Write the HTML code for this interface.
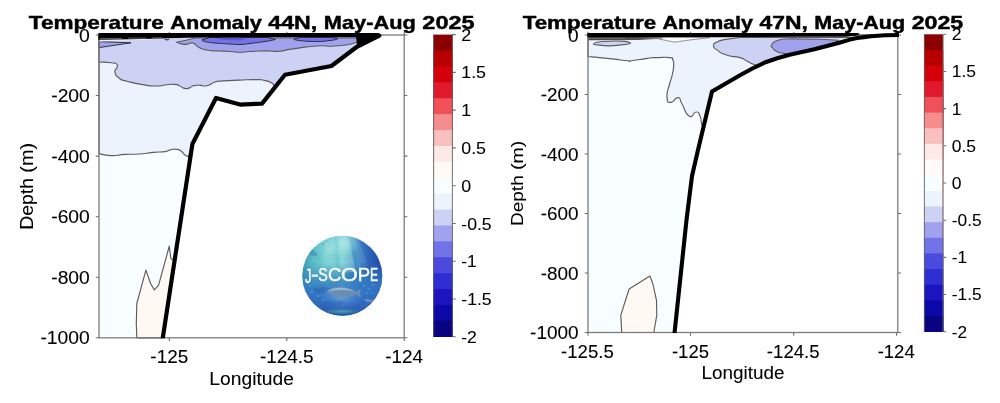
<!DOCTYPE html>
<html><head><meta charset="utf-8"><title>Temperature Anomaly</title>
<style>
html,body{margin:0;padding:0;background:#fff;}
body{width:1000px;height:403px;overflow:hidden;}
svg{display:block;will-change:transform;-webkit-font-smoothing:antialiased;}
text{font-family:"Liberation Sans",sans-serif;}
</style></head><body>
<svg width="1000" height="403" viewBox="0 0 1000 403">
<rect width="1000" height="403" fill="#fff"/>
<g stroke-linejoin="round">
<polygon points="99.0,35.0 379.3,35.6 357.0,46.8 331.4,66.0 285.0,74.8 262.0,103.6 240.0,104.6 216.0,98.0 192.4,144.0 162.8,337.8 99.0,337.8" fill="#f8feff"/>
<path d="M99.0 35.0L99.0 153.6C103.0 154.3 102.3 155.3 111.0 155.6C119.7 155.9 115.7 154.9 125.0 154.4C134.3 153.9 129.7 154.7 139.0 154.0C148.3 153.3 144.3 153.2 153.0 152.4C161.7 151.6 159.0 152.5 165.0 151.6C171.0 150.7 167.0 150.3 171.0 149.6C175.0 148.9 173.7 148.9 177.0 149.4C180.3 149.9 178.3 149.1 181.0 151.0C183.7 152.9 182.5 153.1 185.0 155.0C187.5 156.9 187.3 156.1 188.5 156.6L192.4 144.0L216.0 98.0L240.0 104.6L262.0 103.6L285.0 74.8L331.4 66.0L357.0 46.8L379.5 35.5Z" fill="#edf3fc" stroke="#5c5c5c" stroke-width="1.15"/>
<path d="M99.0 35.0L99.0 62.0C103.0 62.3 105.1 62.1 111.0 62.8C116.9 63.5 114.6 62.5 116.6 64.1C118.6 65.7 117.4 65.0 116.9 67.6C116.4 70.2 114.3 68.4 115.0 71.9C115.7 75.4 115.0 74.9 119.0 78.0C123.0 81.1 119.5 79.1 127.0 81.2C134.5 83.3 131.8 82.8 141.4 84.4C151.0 86.0 147.3 85.9 155.8 86.0C164.3 86.1 160.6 85.2 167.0 84.7C173.4 84.2 170.7 84.0 175.0 84.4C179.3 84.8 176.6 84.7 179.8 86.0C183.0 87.3 181.4 87.8 184.6 88.4C187.8 89.0 186.7 88.7 189.4 87.9C192.1 87.1 189.4 86.9 192.6 86.0C195.8 85.1 194.2 85.3 199.0 85.2C203.8 85.1 201.7 86.8 207.0 85.7C212.3 84.6 209.7 83.6 215.0 82.0C220.3 80.4 215.0 81.5 223.0 80.9C231.0 80.3 228.3 80.5 239.0 80.1C249.7 79.7 246.6 79.5 255.0 79.6C263.4 79.7 258.7 79.3 264.2 80.4C269.7 81.5 267.9 80.9 271.4 82.8C274.9 84.7 272.9 85.1 274.6 86.0C276.3 86.9 275.9 85.7 276.5 85.5L285.0 74.8L331.4 66.0L357.0 46.8L379.5 35.5Z" fill="#cdd1f4" stroke="#5c5c5c" stroke-width="1.15"/>
<polygon points="99.0,41.6 131.0,42.8 99.0,47.6" fill="#a0a2ee" stroke="#222" stroke-width="0.90"/>
<path d="M176.6 42.3C179.1 43.0 179.5 44.1 184.0 44.4C188.5 44.7 186.7 43.5 190.0 43.2C193.3 42.9 190.7 42.0 194.0 43.6C197.3 45.2 194.7 45.7 200.0 48.0C205.3 50.3 203.3 49.5 210.0 50.5C216.7 51.5 213.3 50.7 220.0 51.0C226.7 51.3 223.3 51.1 230.0 51.5C236.7 51.9 233.3 52.2 240.0 52.2C246.7 52.2 243.3 51.9 250.0 51.5C256.7 51.1 253.3 51.2 260.0 51.0C266.7 50.8 263.3 50.9 270.0 51.0C276.7 51.1 272.3 51.9 280.0 51.2C287.7 50.5 280.7 50.6 293.0 48.9C305.3 47.2 303.1 47.0 317.0 46.0C330.9 45.0 321.8 47.1 334.6 46.0C347.4 44.9 347.9 45.5 355.4 42.8C362.9 40.1 356.5 39.6 357.0 38.0L195.0 38.0L186.0 40.3Z" fill="#a0a2ee" stroke="#5c5c5c" stroke-width="1.15"/>
<path d="M202.0 39.8C203.0 40.4 200.7 40.4 205.0 41.5C209.3 42.6 206.7 42.2 215.0 43.0C223.3 43.8 221.7 43.5 230.0 44.0C238.3 44.5 233.3 44.7 240.0 44.5C246.7 44.3 241.7 44.5 250.0 43.5C258.3 42.5 256.5 42.8 265.0 41.5C273.5 40.2 272.0 40.2 275.5 39.5L268.0 37.5L210.0 37.5Z" fill="#7373e8" stroke="#222" stroke-width="0.90"/>
<path d="M293.8 39.3C295.9 39.7 292.8 39.9 300.0 40.6C307.2 41.3 305.4 41.5 315.4 41.5C325.4 41.5 322.5 41.4 330.0 40.5C337.5 39.6 335.2 39.4 337.8 38.8L332.0 37.3L300.0 37.3Z" fill="#7373e8" stroke="#222" stroke-width="0.90"/>
<polygon points="215.5,38.6 225.0,40.0 240.0,40.2 246.0,38.8 240.0,37.4 222.0,37.4" fill="#5a5acc"/>
<polygon points="164.0,39.0 170.0,39.2 168.0,40.6 165.5,40.3" fill="#3c3c78"/>
<polygon points="99.0,38.0 165.0,38.0 150.0,39.6 99.0,41.5" fill="#eeeef4"/>
<polygon points="136.8,337.8 136.3,323.3 136.8,303.5 145.9,270.1 150.7,283.7 154.4,289.9 158.6,285.1 169.3,246.1 170.8,258.3 174.5,261.0 162.8,337.8" fill="#fff9f4" stroke="#5c5c5c" stroke-width="1.15"/>
<polygon points="356.0,35.0 379.5,35.0 357.0,47.0" fill="#000"/>
</g>
<g stroke="#7c7c7c" fill="none">
<rect x="99.00" y="35.00" width="305.20" height="302.80" stroke-width="1.3"/>
<path d="M169.30 337.80v3.20 M169.30 35.00v-3.20 M286.80 337.80v3.20 M286.80 35.00v-3.20 M404.20 337.80v3.20 M404.20 35.00v-3.20 M99.00 35.00h-3.20 M404.20 35.00h3.20 M99.00 95.56h-3.20 M404.20 95.56h3.20 M99.00 156.12h-3.20 M404.20 156.12h3.20 M99.00 216.68h-3.20 M404.20 216.68h3.20 M99.00 277.24h-3.20 M404.20 277.24h3.20 M99.00 337.80h-3.20 M404.20 337.80h3.20 " stroke-width="1.1" stroke="#6c6c6c"/>
</g>
<clipPath id="cl"><rect x="98" y="30" width="307" height="308.3"/></clipPath>
<polyline clip-path="url(#cl)" points="379.3,35.6 357.0,46.8 331.4,66.0 285.0,74.8 262.0,103.6 240.0,104.6 216.0,98.0 192.4,144.0 162.0,343.0" fill="none" stroke="#000" stroke-width="4.2" stroke-linejoin="round" stroke-linecap="round"/>
<polygon points="98.4,33.1 379.0,33.1 379.0,37.3 250.0,37.3 200.0,37.5 175.0,38.1 151.0,38.7 131.0,39.2 98.4,39.7" fill="#000"/>
<path d="M100 38.4h22M128 38.1h18M152 37.9h10" stroke="#8c8c8c" stroke-width="0.7" fill="none"/>
<text x="78.98" y="41.60" font-size="17.77" stroke="#000" stroke-width="0.08" textLength="10.82" lengthAdjust="spacingAndGlyphs">0</text>
<text x="51.22" y="102.16" font-size="17.77" stroke="#000" stroke-width="0.08" textLength="38.58" lengthAdjust="spacingAndGlyphs">-200</text>
<text x="51.22" y="162.72" font-size="17.77" stroke="#000" stroke-width="0.08" textLength="38.58" lengthAdjust="spacingAndGlyphs">-400</text>
<text x="51.22" y="223.28" font-size="17.77" stroke="#000" stroke-width="0.08" textLength="38.58" lengthAdjust="spacingAndGlyphs">-600</text>
<text x="51.22" y="283.84" font-size="17.77" stroke="#000" stroke-width="0.08" textLength="38.58" lengthAdjust="spacingAndGlyphs">-800</text>
<text x="40.40" y="344.40" font-size="17.77" stroke="#000" stroke-width="0.08" textLength="49.40" lengthAdjust="spacingAndGlyphs">-1000</text>
<text x="150.39" y="363.20" font-size="17.77" stroke="#000" stroke-width="0.08" textLength="37.81" lengthAdjust="spacingAndGlyphs">-125</text>
<text x="259.95" y="363.20" font-size="17.77" stroke="#000" stroke-width="0.08" textLength="53.71" lengthAdjust="spacingAndGlyphs">-124.5</text>
<text x="385.29" y="363.20" font-size="17.77" stroke="#000" stroke-width="0.08" textLength="37.81" lengthAdjust="spacingAndGlyphs">-124</text>
<text x="209.32" y="384.60" font-size="17.85" stroke="#000" stroke-width="0.08" textLength="84.55" lengthAdjust="spacingAndGlyphs">Longitude</text>
<g transform="translate(33.40 186.30) rotate(-90)">
<text x="-43.50" y="0" font-size="17.59" stroke="#000" stroke-width="0.08" textLength="51.78" lengthAdjust="spacingAndGlyphs">Depth</text>
<text x="13.68" y="0" font-size="17.59" stroke="#000" stroke-width="0.08" textLength="29.82" lengthAdjust="spacingAndGlyphs">(m)</text>
</g>
<text x="28.86" y="29.20" font-size="18.94" font-weight="bold" stroke="#000" stroke-width="0.45" textLength="134.87" lengthAdjust="spacingAndGlyphs">Temperature</text>
<text x="170.26" y="29.20" font-size="18.94" font-weight="bold" stroke="#000" stroke-width="0.45" textLength="91.58" lengthAdjust="spacingAndGlyphs">Anomaly</text>
<text x="268.37" y="29.20" font-size="18.94" font-weight="bold" stroke="#000" stroke-width="0.45" textLength="48.91" lengthAdjust="spacingAndGlyphs">44N,</text>
<text x="323.80" y="29.20" font-size="18.94" font-weight="bold" stroke="#000" stroke-width="0.45" textLength="92.02" lengthAdjust="spacingAndGlyphs">May-Aug</text>
<text x="422.35" y="29.20" font-size="18.94" font-weight="bold" stroke="#000" stroke-width="0.45" textLength="52.18" lengthAdjust="spacingAndGlyphs">2025</text>
<rect x="433.30" y="34.60" width="19.40" height="302.20" fill="#8b0000"/>
<rect x="433.30" y="50.51" width="19.40" height="286.29" fill="#b80000"/>
<rect x="433.30" y="66.41" width="19.40" height="270.39" fill="#d4000a"/>
<rect x="433.30" y="82.32" width="19.40" height="254.48" fill="#e01a2c"/>
<rect x="433.30" y="98.22" width="19.40" height="238.58" fill="#ef5059"/>
<rect x="433.30" y="114.13" width="19.40" height="222.67" fill="#f58c8e"/>
<rect x="433.30" y="130.03" width="19.40" height="206.77" fill="#f9c0c0"/>
<rect x="433.30" y="145.94" width="19.40" height="190.86" fill="#fdeae7"/>
<rect x="433.30" y="161.84" width="19.40" height="174.96" fill="#fffaf5"/>
<rect x="433.30" y="177.75" width="19.40" height="159.05" fill="#f8feff"/>
<rect x="433.30" y="193.65" width="19.40" height="143.15" fill="#edf3fc"/>
<rect x="433.30" y="209.56" width="19.40" height="127.24" fill="#cdd1f4"/>
<rect x="433.30" y="225.46" width="19.40" height="111.34" fill="#a0a2ee"/>
<rect x="433.30" y="241.37" width="19.40" height="95.43" fill="#7373e8"/>
<rect x="433.30" y="257.27" width="19.40" height="79.53" fill="#4a4ade"/>
<rect x="433.30" y="273.18" width="19.40" height="63.62" fill="#2e2ed2"/>
<rect x="433.30" y="289.08" width="19.40" height="47.72" fill="#1c14c0"/>
<rect x="433.30" y="304.99" width="19.40" height="31.81" fill="#0c08a8"/>
<rect x="433.30" y="320.89" width="19.40" height="15.91" fill="#080480"/>
<path d="M433.60 34.60V336.80 M452.40 34.60V336.80" stroke="#606060" stroke-opacity="0.8" stroke-width="1.1" fill="none"/>
<text x="461.25" y="40.65" font-size="16.72" stroke="#000" stroke-width="0.08" textLength="9.93" lengthAdjust="spacingAndGlyphs">2</text>
<text x="461.25" y="78.42" font-size="16.72" stroke="#000" stroke-width="0.08" textLength="24.81" lengthAdjust="spacingAndGlyphs">1.5</text>
<text x="461.25" y="116.20" font-size="16.72" stroke="#000" stroke-width="0.08" textLength="9.93" lengthAdjust="spacingAndGlyphs">1</text>
<text x="461.25" y="153.97" font-size="16.72" stroke="#000" stroke-width="0.08" textLength="24.81" lengthAdjust="spacingAndGlyphs">0.5</text>
<text x="461.25" y="191.75" font-size="16.72" stroke="#000" stroke-width="0.08" textLength="9.93" lengthAdjust="spacingAndGlyphs">0</text>
<text x="461.25" y="229.52" font-size="16.72" stroke="#000" stroke-width="0.08" textLength="30.44" lengthAdjust="spacingAndGlyphs">-0.5</text>
<text x="461.25" y="267.30" font-size="16.72" stroke="#000" stroke-width="0.08" textLength="15.55" lengthAdjust="spacingAndGlyphs">-1</text>
<text x="461.25" y="305.07" font-size="16.72" stroke="#000" stroke-width="0.08" textLength="30.44" lengthAdjust="spacingAndGlyphs">-1.5</text>
<text x="461.25" y="342.85" font-size="16.72" stroke="#000" stroke-width="0.08" textLength="15.55" lengthAdjust="spacingAndGlyphs">-2</text>
<path d="M452.70 34.60h3.0 M452.70 72.38h3.0 M452.70 110.15h3.0 M452.70 147.92h3.0 M452.70 185.70h3.0 M452.70 223.47h3.0 M452.70 261.25h3.0 M452.70 299.03h3.0 M452.70 336.80h3.0 " stroke="#6c6c6c" stroke-width="1.1" fill="none"/>
<defs>
<linearGradient id="lgh" x1="0" y1="0" x2="1" y2="0"><stop offset="0" stop-color="#3a98b2"/><stop offset="0.14" stop-color="#5cbfc6"/><stop offset="0.32" stop-color="#74cdd0"/><stop offset="0.52" stop-color="#6cc6cf"/><stop offset="0.68" stop-color="#3f88c4"/><stop offset="0.84" stop-color="#2a60b8"/><stop offset="1" stop-color="#1e46a6"/></linearGradient>
<linearGradient id="lgv" x1="0" y1="0" x2="0" y2="1"><stop offset="0.34" stop-color="#3380be" stop-opacity="0"/><stop offset="0.5" stop-color="#3380be" stop-opacity="0.55"/><stop offset="0.66" stop-color="#3276c4" stop-opacity="0.93"/><stop offset="0.88" stop-color="#2f64bc" stop-opacity="1"/><stop offset="1" stop-color="#1f4098" stop-opacity="1"/></linearGradient>
<radialGradient id="lgg" cx="0.5" cy="0.5" r="0.5"><stop offset="0" stop-color="#7db6e6" stop-opacity="0.75"/><stop offset="1" stop-color="#5a9ee0" stop-opacity="0"/></radialGradient>
<radialGradient id="lgt" cx="0.5" cy="0.5" r="0.5"><stop offset="0" stop-color="#b4ece8" stop-opacity="0.8"/><stop offset="1" stop-color="#8adce0" stop-opacity="0"/></radialGradient>
<radialGradient id="lgb" cx="0.5" cy="0.5" r="0.5"><stop offset="0" stop-color="#52b4ac" stop-opacity="0.8"/><stop offset="1" stop-color="#48a8b0" stop-opacity="0"/></radialGradient>
<clipPath id="lc"><circle cx="342.3" cy="275.7" r="40"/></clipPath>
</defs>
<g clip-path="url(#lc)">
<rect x="302" y="235" width="81" height="82" fill="url(#lgh)"/>
<ellipse cx="344" cy="243" rx="16" ry="14" fill="url(#lgt)"/>
<ellipse cx="331" cy="249" rx="17" ry="12" fill="url(#lgt)" opacity="0.55"/>
<polygon points="338,235 348,235 356,272 340,272" fill="#c6f2ee" opacity="0.28"/>
<g fill="#2a7f94" opacity="0.4"><ellipse cx="312.5" cy="250.2" rx="2.2" ry="0.8" transform="rotate(25 312.5 250.2)"/><ellipse cx="323" cy="244" rx="1.2" ry="0.5"/><ellipse cx="327" cy="241" rx="1" ry="0.5"/><ellipse cx="318" cy="258" rx="1.2" ry="0.5"/><ellipse cx="333" cy="255" rx="1" ry="0.5"/><ellipse cx="325" cy="262" rx="1.2" ry="0.5"/><ellipse cx="337" cy="247" rx="0.9" ry="0.45"/><ellipse cx="330" cy="238.5" rx="1" ry="0.45"/><ellipse cx="345" cy="259" rx="1" ry="0.45"/><ellipse cx="352" cy="252" rx="1" ry="0.45"/><ellipse cx="314" cy="264" rx="1.1" ry="0.5"/></g>
<polygon points="326,237 333,236 336,268 322,266" fill="#c0eeea" opacity="0.18"/>
<polygon points="352,236 358,238 368,266 358,268" fill="#a8dcec" opacity="0.16"/>
<rect x="302" y="235" width="81" height="82" fill="url(#lgv)"/>
<ellipse cx="341" cy="296" rx="22" ry="13" fill="url(#lgg)"/>
<ellipse cx="342" cy="311.5" rx="22" ry="3.6" fill="url(#lgb)"/>
<g fill="#1f5aa8" opacity="0.28"><ellipse cx="312" cy="253" rx="6" ry="2.5" transform="rotate(20 312 253)"/><ellipse cx="322" cy="290" rx="9" ry="3"/><ellipse cx="352" cy="276" rx="8" ry="4"/><ellipse cx="334" cy="303" rx="10" ry="2.5"/><ellipse cx="366" cy="268" rx="6" ry="5"/></g>
<g fill="#9cc8e8" opacity="0.35"><ellipse cx="364" cy="286" rx="1.6" ry="0.7"/><ellipse cx="369" cy="289" rx="1.6" ry="0.7"/><ellipse cx="373" cy="285" rx="1.5" ry="0.7"/><ellipse cx="367" cy="293" rx="1.6" ry="0.7"/><ellipse cx="361" cy="282" rx="1.4" ry="0.6"/><ellipse cx="372" cy="293" rx="1.5" ry="0.6"/><ellipse cx="312" cy="292" rx="1.8" ry="0.8"/><ellipse cx="318" cy="296" rx="1.8" ry="0.8"/><ellipse cx="310" cy="286" rx="1.6" ry="0.7"/><ellipse cx="323" cy="300" rx="1.6" ry="0.7"/></g>
<path d="M325.8 291.8 q5 -4.6 12 -4.8 l4 -1.4 l1.5 1.6 q7 0.8 12.5 4.6 l5.4 -3.4 q-1.8 4.2 -0.2 9.8 l-5.6 -4 q-6 4 -14 3.2 q-9.5 -1 -15.6 -5.6z" fill="#6b8db1" opacity="0.95"/>
<path d="M327.5 291.2 q6 -3.8 13 -3.4 q8 0.4 13.5 3.4 q-7 -1.4 -13.5 -1.2 q-7 0.2 -13 1.2z" fill="#a6c6da" opacity="0.75"/>
<path d="M363.5 299.6 q4 -1.6 7.6 0.6 l2.6 -1 l-0.4 3.8 l-2.4 -1 q-4 1.2 -7.4 -2.4z" fill="#6f96b8" opacity="0.85"/>
</g>
<text transform="translate(305.00 283.00) scale(0.680 1.120)" font-size="18.75" fill="#fff" stroke="#fff" stroke-width="0.4">J</text><text transform="translate(310.96 281.40) scale(1.257 1.000)" font-size="18.75" fill="#fff" stroke="#fff" stroke-width="0.4">-</text><text transform="translate(318.14 281.40) scale(0.762 1.000)" font-size="18.75" fill="#fff" stroke="#fff" stroke-width="0.4">S</text><text transform="translate(328.06 281.40) scale(0.980 1.000)" font-size="18.75" fill="#fff" stroke="#fff" stroke-width="0.4">C</text><text transform="translate(340.89 281.40) scale(1.150 1.000)" font-size="18.75" fill="#fff" stroke="#fff" stroke-width="0.4">O</text><text transform="translate(357.80 281.40) scale(0.990 1.000)" font-size="18.75" fill="#fff" stroke="#fff" stroke-width="0.4">P</text><text transform="translate(370.06 281.40) scale(0.650 1.000)" font-size="18.75" fill="#fff" stroke="#fff" stroke-width="0.4">E</text>
<g stroke-linejoin="round">
<polygon points="588.0,35.0 899.0,35.0 885.0,35.2 878.0,35.7 871.0,36.3 864.0,37.1 857.0,38.0 850.0,39.6 839.3,42.7 826.9,45.9 814.4,49.2 802.0,52.1 789.6,54.8 777.2,58.3 764.8,62.5 752.4,68.5 740.0,75.3 712.0,91.6 698.0,150.0 692.0,176.0 686.5,220.0 674.6,332.5 588.0,332.5" fill="#f8feff"/>
<path d="M588.0 35.0L588.0 56.5C591.7 56.9 591.2 56.8 599.2 57.6C607.2 58.4 602.4 57.8 612.0 58.9C621.6 60.0 621.6 60.2 628.0 60.8C634.4 61.4 624.8 61.6 631.2 60.8C637.6 60.0 638.7 59.5 647.2 58.4C655.7 57.3 649.3 57.9 656.8 57.6C664.3 57.3 664.3 56.8 669.6 57.6C674.9 58.4 671.5 57.1 672.8 60.0C674.1 62.9 673.9 61.1 673.6 66.4C673.3 71.7 673.3 70.1 672.0 76.0C670.7 81.9 671.3 77.0 669.6 84.0C667.9 91.0 666.5 90.9 667.0 97.0C667.5 103.1 667.3 102.2 671.0 102.4C674.7 102.6 674.3 97.1 678.0 97.6C681.7 98.1 678.3 97.9 682.0 104.0C685.7 110.1 684.3 113.3 689.0 116.0C693.7 118.7 692.3 112.0 696.0 112.0C699.7 112.0 698.0 111.7 700.0 116.0C702.0 120.3 700.6 122.3 702.0 125.0C703.4 127.7 703.5 124.3 704.2 124.0L712.0 91.6L740.0 75.3L752.4 68.5L764.8 62.5L777.2 58.3L789.6 54.8L802.0 52.1L814.4 49.2L826.9 45.9L839.3 42.7L850.0 39.6L857.0 38.0L864.0 37.1L871.0 36.3L871.0 35.0Z" fill="#edf3fc" stroke="#5c5c5c" stroke-width="1.15"/>
<path d="M593.6 44.0C593.9 43.5 596.4 42.3 600.0 41.8C603.6 41.3 610.8 41.1 615.0 41.0C619.2 40.9 622.4 41.0 625.0 41.4C627.6 41.8 630.9 42.9 630.4 43.5C629.9 44.1 625.7 44.4 622.0 44.8C618.3 45.2 612.0 45.9 608.0 45.9C604.0 45.9 600.4 45.3 598.0 45.0C595.6 44.7 593.3 44.5 593.6 44.0Z" fill="#cdd1f4" stroke="#5c5c5c" stroke-width="1.15"/>
<path d="M724.0 39.6C721.7 40.4 720.5 40.0 717.0 42.0C713.5 44.0 713.4 42.8 713.6 45.6C713.8 48.4 713.1 47.2 717.6 50.4C722.1 53.6 719.7 52.8 727.2 55.2C734.7 57.6 733.6 55.7 740.0 57.6C746.4 59.5 742.1 58.7 746.4 60.8C750.7 62.9 749.1 62.4 752.8 64.0C756.5 65.6 756.0 65.1 757.6 65.6L764.8 62.5L777.2 58.3L789.6 54.8L802.0 52.1L814.4 49.2L826.9 45.9L839.3 42.7L850.0 39.6L850.0 37.5L740.0 37.5Z" fill="#cdd1f4" stroke="#5c5c5c" stroke-width="1.15"/>
<path d="M790.0 38.9C786.0 39.3 784.1 38.2 778.0 40.2C771.9 42.2 773.5 42.2 771.8 44.8C770.1 47.4 771.3 45.9 772.8 48.0C774.3 50.1 773.0 49.5 776.4 51.2C779.8 52.9 777.5 52.5 783.0 53.2C788.5 53.9 786.3 53.9 793.0 53.2C799.7 52.5 795.9 52.7 803.0 51.0C810.1 49.3 806.4 50.1 814.4 48.0C822.4 45.9 818.6 46.9 826.9 44.8C835.2 42.7 835.2 42.7 839.3 41.6L838.6 40.2L820.0 39.2Z" fill="#a0a2ee" stroke="#5c5c5c" stroke-width="1.15"/>
<polygon points="838.8,39.6 852.0,37.6 847.0,40.4 839.6,42.2" fill="#f3f5fd"/>
<polygon points="657.0,38.6 674.8,42.2 688.0,40.2 709.6,37.6 709.0,37.0 657.0,37.0" fill="#fbfbfb" stroke="#666" stroke-width="0.7"/>
<defs><linearGradient id="rs" x1="0" y1="0" x2="1" y2="0"><stop offset="0" stop-color="#46423f"/><stop offset="0.65" stop-color="#55504c"/><stop offset="1" stop-color="#9a9896"/></linearGradient></defs>
<polygon points="588.0,36.5 664.0,36.5 662.0,38.8 640.0,39.9 588.0,40.2" fill="url(#rs)"/>
<path d="M589 38.3H625" stroke="#9a9088" stroke-width="0.6" fill="none"/>
<polygon points="621.7,332.5 620.8,315.2 629.1,289.0 649.9,276.0 652.9,284.0 656.5,300.4 656.8,315.2 653.8,332.5" fill="#fff9f4" stroke="#5c5c5c" stroke-width="1.15"/>
</g>
<g stroke="#7c7c7c" fill="none">
<rect x="588.00" y="35.00" width="309.80" height="297.50" stroke-width="1.3"/>
<path d="M588.00 332.50v3.20 M588.00 35.00v-3.20 M690.50 332.50v3.20 M690.50 35.00v-3.20 M793.70 332.50v3.20 M793.70 35.00v-3.20 M896.60 332.50v3.20 M896.60 35.00v-3.20 M588.00 35.00h-3.20 M897.80 35.00h3.20 M588.00 94.50h-3.20 M897.80 94.50h3.20 M588.00 154.00h-3.20 M897.80 154.00h3.20 M588.00 213.50h-3.20 M897.80 213.50h3.20 M588.00 273.00h-3.20 M897.80 273.00h3.20 M588.00 332.50h-3.20 M897.80 332.50h3.20 " stroke-width="1.1" stroke="#6c6c6c"/>
</g>
<clipPath id="cr"><rect x="587" y="30" width="312" height="303"/></clipPath>
<polyline clip-path="url(#cr)" points="899.0,35.0 885.0,35.2 878.0,35.7 871.0,36.3 864.0,37.1 857.0,38.0 850.0,39.6 839.3,42.7 826.9,45.9 814.4,49.2 802.0,52.1 789.6,54.8 777.2,58.3 764.8,62.5 752.4,68.5 740.0,75.3 712.0,91.6 698.0,150.0 692.0,176.0 686.5,220.0 674.0,338.0" fill="none" stroke="#000" stroke-width="4.1" stroke-linejoin="round" stroke-linecap="round"/>
<polygon points="587.4,33.1 858.0,33.1 860.0,34.2 856.0,35.8 846.0,36.7 800.0,36.8 720.0,37.2 587.4,37.3" fill="#000"/>
<text x="567.99" y="41.50" font-size="17.43" stroke="#000" stroke-width="0.08" textLength="10.61" lengthAdjust="spacingAndGlyphs">0</text>
<text x="540.75" y="101.00" font-size="17.43" stroke="#000" stroke-width="0.08" textLength="37.85" lengthAdjust="spacingAndGlyphs">-200</text>
<text x="540.75" y="160.50" font-size="17.43" stroke="#000" stroke-width="0.08" textLength="37.85" lengthAdjust="spacingAndGlyphs">-400</text>
<text x="540.75" y="220.00" font-size="17.43" stroke="#000" stroke-width="0.08" textLength="37.85" lengthAdjust="spacingAndGlyphs">-600</text>
<text x="540.75" y="279.50" font-size="17.43" stroke="#000" stroke-width="0.08" textLength="37.85" lengthAdjust="spacingAndGlyphs">-800</text>
<text x="530.14" y="339.00" font-size="17.43" stroke="#000" stroke-width="0.08" textLength="48.46" lengthAdjust="spacingAndGlyphs">-1000</text>
<text x="561.06" y="357.50" font-size="17.43" stroke="#000" stroke-width="0.08" textLength="52.69" lengthAdjust="spacingAndGlyphs">-125.5</text>
<text x="671.95" y="357.50" font-size="17.43" stroke="#000" stroke-width="0.08" textLength="37.09" lengthAdjust="spacingAndGlyphs">-125</text>
<text x="766.86" y="357.50" font-size="17.43" stroke="#000" stroke-width="0.08" textLength="52.69" lengthAdjust="spacingAndGlyphs">-124.5</text>
<text x="877.65" y="357.50" font-size="17.43" stroke="#000" stroke-width="0.08" textLength="37.09" lengthAdjust="spacingAndGlyphs">-124</text>
<text x="701.53" y="379.00" font-size="17.51" stroke="#000" stroke-width="0.08" textLength="82.95" lengthAdjust="spacingAndGlyphs">Longitude</text>
<g transform="translate(522.80 183.40) rotate(-90)">
<text x="-42.68" y="0" font-size="17.26" stroke="#000" stroke-width="0.08" textLength="50.80" lengthAdjust="spacingAndGlyphs">Depth</text>
<text x="13.42" y="0" font-size="17.26" stroke="#000" stroke-width="0.08" textLength="29.26" lengthAdjust="spacingAndGlyphs">(m)</text>
</g>
<text x="522.78" y="28.90" font-size="18.72" font-weight="bold" stroke="#000" stroke-width="0.45" textLength="133.28" lengthAdjust="spacingAndGlyphs">Temperature</text>
<text x="662.51" y="28.90" font-size="18.72" font-weight="bold" stroke="#000" stroke-width="0.45" textLength="90.51" lengthAdjust="spacingAndGlyphs">Anomaly</text>
<text x="759.47" y="28.90" font-size="18.72" font-weight="bold" stroke="#000" stroke-width="0.45" textLength="48.33" lengthAdjust="spacingAndGlyphs">47N,</text>
<text x="814.26" y="28.90" font-size="18.72" font-weight="bold" stroke="#000" stroke-width="0.45" textLength="90.94" lengthAdjust="spacingAndGlyphs">May-Aug</text>
<text x="911.65" y="28.90" font-size="18.72" font-weight="bold" stroke="#000" stroke-width="0.45" textLength="51.57" lengthAdjust="spacingAndGlyphs">2025</text>
<rect x="924.10" y="34.30" width="19.10" height="297.40" fill="#8b0000"/>
<rect x="924.10" y="49.95" width="19.10" height="281.75" fill="#b80000"/>
<rect x="924.10" y="65.61" width="19.10" height="266.09" fill="#d4000a"/>
<rect x="924.10" y="81.26" width="19.10" height="250.44" fill="#e01a2c"/>
<rect x="924.10" y="96.91" width="19.10" height="234.79" fill="#ef5059"/>
<rect x="924.10" y="112.56" width="19.10" height="219.14" fill="#f58c8e"/>
<rect x="924.10" y="128.22" width="19.10" height="203.48" fill="#f9c0c0"/>
<rect x="924.10" y="143.87" width="19.10" height="187.83" fill="#fdeae7"/>
<rect x="924.10" y="159.52" width="19.10" height="172.18" fill="#fffaf5"/>
<rect x="924.10" y="175.17" width="19.10" height="156.53" fill="#f8feff"/>
<rect x="924.10" y="190.83" width="19.10" height="140.87" fill="#edf3fc"/>
<rect x="924.10" y="206.48" width="19.10" height="125.22" fill="#cdd1f4"/>
<rect x="924.10" y="222.13" width="19.10" height="109.57" fill="#a0a2ee"/>
<rect x="924.10" y="237.78" width="19.10" height="93.92" fill="#7373e8"/>
<rect x="924.10" y="253.44" width="19.10" height="78.26" fill="#4a4ade"/>
<rect x="924.10" y="269.09" width="19.10" height="62.61" fill="#2e2ed2"/>
<rect x="924.10" y="284.74" width="19.10" height="46.96" fill="#1c14c0"/>
<rect x="924.10" y="300.39" width="19.10" height="31.31" fill="#0c08a8"/>
<rect x="924.10" y="316.05" width="19.10" height="15.65" fill="#080480"/>
<path d="M924.40 34.30V331.70 M942.90 34.30V331.70" stroke="#606060" stroke-opacity="0.8" stroke-width="1.1" fill="none"/>
<text x="951.75" y="40.23" font-size="16.40" stroke="#000" stroke-width="0.08" textLength="9.74" lengthAdjust="spacingAndGlyphs">2</text>
<text x="951.75" y="77.41" font-size="16.40" stroke="#000" stroke-width="0.08" textLength="24.34" lengthAdjust="spacingAndGlyphs">1.5</text>
<text x="951.75" y="114.58" font-size="16.40" stroke="#000" stroke-width="0.08" textLength="9.74" lengthAdjust="spacingAndGlyphs">1</text>
<text x="951.75" y="151.76" font-size="16.40" stroke="#000" stroke-width="0.08" textLength="24.34" lengthAdjust="spacingAndGlyphs">0.5</text>
<text x="951.75" y="188.93" font-size="16.40" stroke="#000" stroke-width="0.08" textLength="9.74" lengthAdjust="spacingAndGlyphs">0</text>
<text x="951.75" y="226.11" font-size="16.40" stroke="#000" stroke-width="0.08" textLength="29.86" lengthAdjust="spacingAndGlyphs">-0.5</text>
<text x="951.75" y="263.28" font-size="16.40" stroke="#000" stroke-width="0.08" textLength="15.26" lengthAdjust="spacingAndGlyphs">-1</text>
<text x="951.75" y="300.46" font-size="16.40" stroke="#000" stroke-width="0.08" textLength="29.86" lengthAdjust="spacingAndGlyphs">-1.5</text>
<text x="951.75" y="337.63" font-size="16.40" stroke="#000" stroke-width="0.08" textLength="15.26" lengthAdjust="spacingAndGlyphs">-2</text>
<path d="M943.20 34.30h3.0 M943.20 71.47h3.0 M943.20 108.65h3.0 M943.20 145.82h3.0 M943.20 183.00h3.0 M943.20 220.18h3.0 M943.20 257.35h3.0 M943.20 294.52h3.0 M943.20 331.70h3.0 " stroke="#6c6c6c" stroke-width="1.1" fill="none"/>
</svg>
</body></html>
